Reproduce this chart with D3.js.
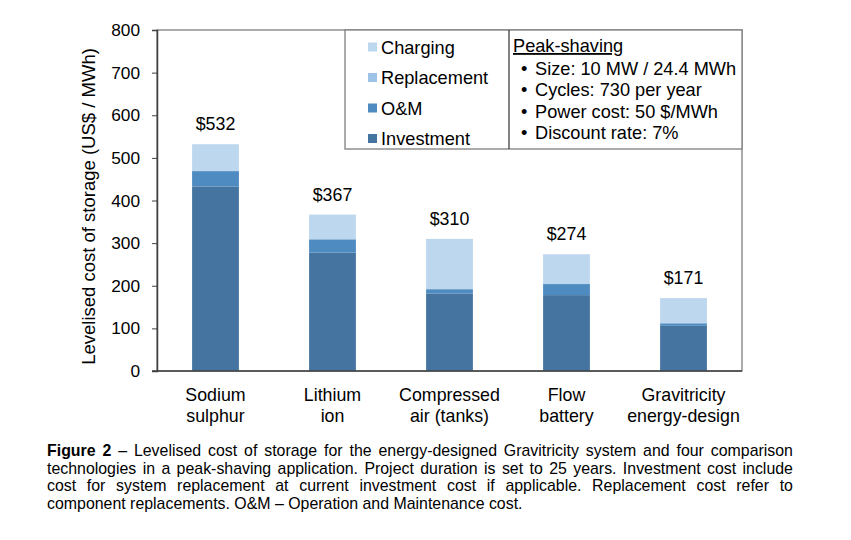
<!DOCTYPE html>
<html><head><meta charset="utf-8">
<script src="https://cdn.jsdelivr.net/npm/d3@7"></script>
<style>
body{margin:0;background:#fff;}
#caption{position:absolute;left:47px;top:442px;width:769px;transform:scaleX(0.97);transform-origin:0 0;font-family:'Liberation Sans',Arial,sans-serif;font-size:16.4px;line-height:17.5px;color:#000;}
#caption div{text-align:justify;text-align-last:justify;white-space:nowrap;}
#caption div.last{text-align-last:left;}
</style></head>
<body>
<svg id="chart" width="851" height="540" style="position:absolute;left:0;top:0"></svg>
<div id="caption"></div>
<script>
const categories = [["Sodium","sulphur"],["Lithium","ion"],["Compressed","air (tanks)"],["Flow","battery"],["Gravitricity","energy-design"]];
const investment = [433, 278, 182, 178, 106];
const om = [36, 31, 10, 26, 6];
const replacement = [0, 0, 0, 0, 0];
const charging = [63, 58, 118, 70, 59];
const totals = ["$532","$367","$310","$274","$171"];
const yTicks = [0,100,200,300,400,500,600,700,800];
const seriesNames = ["Investment","O&M","Replacement","Charging"];
const seriesColors = ["#44749f","#4e8bc1","#9dc3e6","#bdd7ee"];
const infoTitle = "Peak-shaving";
const infoLines = ["Size: 10 MW / 24.4 MWh","Cycles: 730 per year","Power cost: 50 $/MWh","Discount rate: 7%"];
const captionBold = "Figure 2";
const captionLines = [
  " – Levelised cost of storage for the energy-designed Gravitricity system and four comparison",
  "technologies in a peak-shaving application. Project duration is set to 25 years. Investment cost include",
  "cost for system replacement at current investment cost if applicable. Replacement cost refer to",
  "component replacements. O&M – Operation and Maintenance cost."];

const svg = d3.select("#chart");
const L=157, R=742, T=30, B=371;
const font = "'Liberation Sans', Arial, sans-serif";
const x = d3.scaleBand().domain(d3.range(categories.length)).range([L,R]).paddingInner(0.6).paddingOuter(0.3);
const y = d3.scaleLinear().domain([0,800]).range([B,T]);

const rows = categories.map((c,i)=>({i, Investment:investment[i], "O&M":om[i], Replacement:replacement[i], Charging:charging[i]}));
const stack = d3.stack().keys(seriesNames)(rows);

svg.append("rect").attr("x",L).attr("y",T).attr("width",R-L).attr("height",B-T)
  .attr("fill","none").attr("stroke","#7f7f7f").attr("stroke-width",1.3);

stack.forEach((s,k)=>{
  svg.append("g").selectAll("rect").data(s).join("rect")
    .attr("x",d=>x(d.data.i)).attr("width",x.bandwidth())
    .attr("y",d=>y(d[1])).attr("height",d=>Math.max(0,y(d[0])-y(d[1])))
    .attr("fill",seriesColors[k]);
});

svg.append("g").selectAll("text").data(rows).join("text")
  .attr("x",d=>x(d.i)+x.bandwidth()/2)
  .attr("y",d=>y(investment[d.i]+om[d.i]+replacement[d.i]+charging[d.i])-14)
  .attr("text-anchor","middle").attr("font-family",font).attr("font-size",17.8)
  .text(d=>totals[d.i]);

const yAxis = svg.append("g").attr("transform",`translate(${L},0)`)
  .call(d3.axisLeft(y).tickValues(yTicks).tickSize(5).tickPadding(12));
yAxis.select(".domain").attr("stroke","#404040").attr("stroke-width",1.5);
yAxis.selectAll(".tick line").attr("stroke","#404040");
yAxis.selectAll("text").attr("font-family",font).attr("font-size",17.3).attr("fill","#000");

const xAxis = svg.append("g").attr("transform",`translate(0,${B})`)
  .call(d3.axisBottom(x).tickSize(0).tickFormat(""));
xAxis.select(".domain").attr("d",`M${L-5},0H${R}`).attr("stroke","#404040").attr("stroke-width",1.5);
const xl = svg.append("g").selectAll("text").data(categories).join("text")
  .attr("text-anchor","middle").attr("font-family",font).attr("font-size",17.8)
  .attr("transform",(d,i)=>`translate(${x(i)+x.bandwidth()/2},${B+30})`);
xl.each(function(d){
  const t=d3.select(this);
  d.forEach((line,j)=>t.append("tspan").attr("x",0).attr("dy",j?20.5:0).text(line));
});

svg.append("text").attr("transform",`translate(95,${(T+B)/2+6}) rotate(-90)`)
  .attr("text-anchor","middle").attr("font-family",font).attr("font-size",18.5)
  .text("Levelised cost of storage (US$ / MWh)");

const lg = svg.append("g");
lg.append("rect").attr("x",345).attr("y",T).attr("width",R-345).attr("height",119)
  .attr("fill","#fff").attr("stroke","#7f7f7f").attr("stroke-width",1.3);
lg.append("line").attr("x1",509).attr("x2",509).attr("y1",T).attr("y2",149).attr("stroke","#404040").attr("stroke-width",1.3);
const legOrder = [3,2,1,0];
legOrder.forEach((k,j)=>{
  const cy = 47 + j*30.5;
  lg.append("rect").attr("x",368).attr("y",cy-4.5).attr("width",9).attr("height",9).attr("fill",seriesColors[k]);
  lg.append("text").attr("x",381).attr("y",cy+6.5).attr("font-family",font).attr("font-size",18.2).text(seriesNames[k]);
});
lg.append("text").attr("x",513).attr("y",52).attr("font-family",font).attr("font-size",18.2)
  .attr("text-decoration","underline").text(infoTitle);
infoLines.forEach((s,j)=>{
  const by = 74.5 + j*21.5;
  lg.append("text").attr("x",521).attr("y",by).attr("font-family",font).attr("font-size",18.2).text("•");
  lg.append("text").attr("x",535).attr("y",by).attr("font-family",font).attr("font-size",18.2).text(s);
});

const cap = d3.select("#caption");
captionLines.forEach((line,j)=>{
  const d = cap.append("div").attr("class", j===captionLines.length-1 ? "last" : null);
  if(j===0){ d.append("b").text(captionBold); }
  d.append("span").text(line);
});
</script>
</body></html>
